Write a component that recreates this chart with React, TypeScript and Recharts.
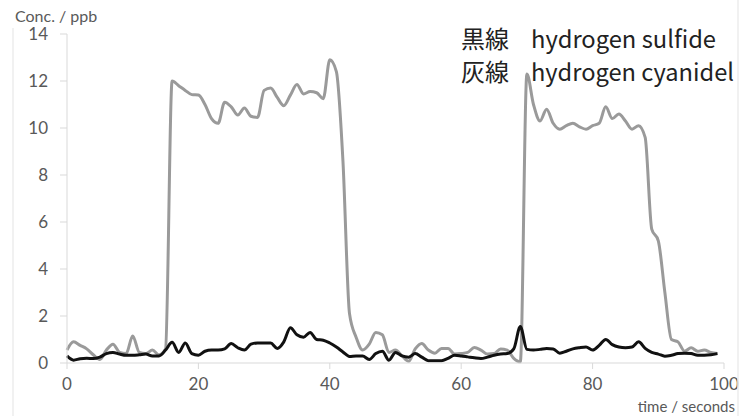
import { CartesianGrid, Line, LineChart, XAxis, YAxis } from "recharts"

// time in seconds
const time = Array.from({ length: 100 }, (_, i) => i)

// black line: hydrogen sulfide (ppb)
const sulfide = [
  0.3, 0.12, 0.18, 0.2, 0.19, 0.25, 0.4, 0.45, 0.38, 0.33,
  0.33, 0.35, 0.38, 0.3, 0.3, 0.55, 0.88, 0.45, 0.85, 0.4,
  0.33, 0.5, 0.55, 0.55, 0.6, 0.83, 0.65, 0.55, 0.8, 0.85,
  0.85, 0.85, 0.62, 0.9, 1.5, 1.2, 1.1, 1.3, 1.0, 0.97,
  0.85, 0.68, 0.47, 0.28, 0.3, 0.3, 0.15, 0.4, 0.5, 0.12,
  0.45, 0.3, 0.25, 0.4, 0.25, 0.1, 0.1, 0.1, 0.2, 0.33,
  0.3, 0.26, 0.22, 0.19, 0.25, 0.33, 0.38, 0.4, 0.6, 1.55,
  0.58, 0.55, 0.58, 0.62, 0.6, 0.42, 0.5, 0.6, 0.65, 0.68,
  0.55, 0.75, 1.0, 0.78, 0.68, 0.65, 0.68, 0.9, 0.62, 0.45,
  0.38, 0.29, 0.33, 0.4, 0.42, 0.4, 0.33, 0.33, 0.35, 0.4
]

// grey line: hydrogen cyanide (ppb)
const cyanide = [
  0.55, 0.9, 0.75, 0.6, 0.35, 0.15, 0.55, 0.8, 0.45, 0.4,
  1.15, 0.45, 0.4, 0.55, 0.35, 0.6, 12.0, 11.8, 11.6, 11.42,
  11.4, 11.0, 10.4, 10.2, 11.1, 10.9, 10.55, 10.85, 10.5, 10.45,
  11.6, 11.7, 11.3, 10.95, 11.4, 11.85, 11.45, 11.55, 11.5, 11.25,
  12.9, 12.4, 8.6, 2.1, 1.1, 0.55, 0.8, 1.3, 1.2, 0.45,
  0.55, 0.3, 0.07, 0.6, 0.83, 0.55, 0.42, 0.62, 0.62, 0.38,
  0.4, 0.45, 0.66, 0.55, 0.38, 0.4, 0.6, 0.55, 0.2, 0.05,
  12.3, 11.0, 10.3, 10.8, 10.2, 9.95, 10.1, 10.2, 10.05, 9.95,
  10.1, 10.2, 10.9, 10.4, 10.6, 10.3, 9.95, 10.1, 9.6, 5.7,
  5.2, 3.0, 1.0, 0.9, 0.5, 0.65, 0.5, 0.55, 0.45, 0.4
]

const xTicks = [0, 20, 40, 60, 80, 100]
const yTicks = [0, 2, 4, 6, 8, 10, 12, 14]

const data = time.map((t, i) => ({ time: t, sulfide: sulfide[i], cyanide: cyanide[i] }))

const axisColor = "#d9d9d9"
const tickFont = { fill: "#595959", fontSize: 17, fontFamily: "Lato, sans-serif" }

export default function App() {
  return (
    <div style={{ position: "absolute", left: 0, top: 0, width: 755, height: 416, background: "#fff" }}>
      <LineChart width={755} height={416} data={data} margin={{ top: 34, right: 31, left: 0, bottom: 23 }}>
        <CartesianGrid horizontal={false} vertical={false} />
        <XAxis
          dataKey="time"
          type="number"
          domain={[0, 100]}
          ticks={xTicks}
          height={30}
          stroke={axisColor}
          tickSize={6}
          tickMargin={9}
          tick={tickFont}
        />
        <YAxis
          type="number"
          domain={[0, 14]}
          ticks={yTicks}
          width={67}
          stroke={axisColor}
          tickSize={7}
          tickMargin={12}
          tick={tickFont}
        />
        <Line
          dataKey="cyanide"
          type="monotone"
          stroke="#9a9a9a"
          strokeWidth={3}
          dot={false}
          isAnimationActive={false}
        />
        <Line
          dataKey="sulfide"
          type="monotone"
          stroke="#111"
          strokeWidth={3}
          dot={false}
          isAnimationActive={false}
        />
      </LineChart>
      <svg
        width={755}
        height={416}
        style={{ position: "absolute", left: 0, top: 0, pointerEvents: "none" }}
      >
        <line x1={13} y1={28} x2={13} y2={416} stroke="#ececec" strokeWidth={1.5} />
        <line x1={738} y1={0} x2={738} y2={416} stroke="#ececec" strokeWidth={1.5} />
        <text x={15} y={22} fill="#595959" fontSize={16} fontFamily="Lato, sans-serif">
          Conc. / ppb
        </text>
        <text x={735} y={412} textAnchor="end" fill="#595959" fontSize={15} fontFamily="Lato, sans-serif">
          time / seconds
        </text>
        <g fill="#222" fontSize={24} fontFamily="'Noto Sans CJK JP', sans-serif">
          <text x={461} y={48}>黒線</text>
          <text x={531} y={48} textLength={185} lengthAdjust="spacingAndGlyphs">
            hydrogen sulfide
          </text>
          <text x={461} y={81}>灰線</text>
          <text x={531} y={81} textLength={203} lengthAdjust="spacingAndGlyphs">
            hydrogen cyanidel
          </text>
        </g>
      </svg>
    </div>
  )
}
